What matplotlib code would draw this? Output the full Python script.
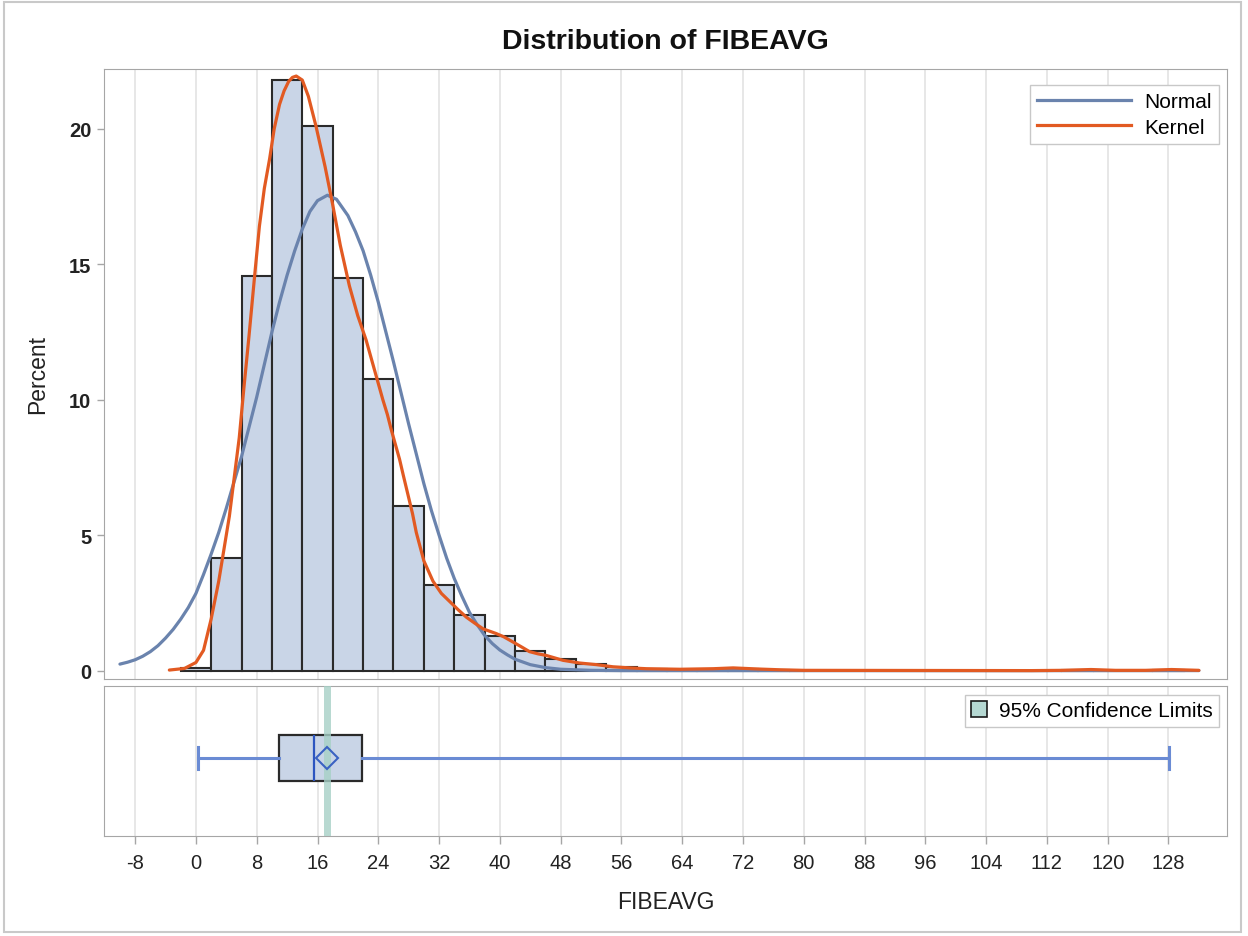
import matplotlib
matplotlib.use("Agg")
import matplotlib.pyplot as plt
from matplotlib.patches import Rectangle, Patch
from matplotlib.lines import Line2D

plt.rcParams['font.family'] = ['Liberation Sans', 'DejaVu Sans']

# histogram: bin midpoints (width 4) and percent of observations
bin_mids = [0, 4, 8, 12, 16, 20, 24, 28, 32, 36, 40, 44, 48, 52, 56, 60,
            64, 68, 72, 76, 80, 84, 88, 92, 96, 100, 104, 108, 112, 116,
            120, 124, 128]
bin_pct = [0.1, 4.15, 14.58, 21.8, 20.1, 14.5, 10.77, 6.06, 3.15, 2.04,
           1.27, 0.71, 0.44, 0.26, 0.15, 0.07, 0.04, 0.04, 0.07, 0.02,
           0, 0, 0, 0, 0, 0, 0, 0, 0, 0.03, 0, 0, 0.03]
bin_width = 4

# fitted normal curve
normal_x = [-10, -9, -8, -7, -6, -5, -4, -3, -2, -1, 0, 1, 2, 3, 4, 5, 6,
            7, 8, 9, 10, 11, 12, 13, 14, 15, 16, 17.3, 18.5, 19, 20, 21, 22,
            23, 24, 25, 26, 27, 28, 29, 30, 31, 32, 33, 34, 35, 36, 37, 38,
            39, 40, 41, 42, 44, 46, 48, 52, 56, 60, 80, 100, 132]
normal_y = [0.24, 0.31, 0.40, 0.53, 0.70, 0.92, 1.20, 1.52, 1.90, 2.33,
            2.85, 3.55, 4.3, 5.1, 6.0, 6.95, 7.9, 9.0, 10.1, 11.3, 12.5,
            13.6, 14.6, 15.5, 16.3, 16.95, 17.35, 17.55, 17.4, 17.2, 16.8,
            16.2, 15.5, 14.6, 13.6, 12.5, 11.4, 10.25, 9.1, 8.0, 6.9, 5.9,
            5.0, 4.15, 3.4, 2.75, 2.15, 1.7, 1.3, 1.0, 0.76, 0.58, 0.42,
            0.22, 0.11, 0.05, 0.01, 0, 0, 0, 0, 0]

# kernel density curve
kernel_x = [-3.5, -1.5, 0, 1, 2, 3, 4.4, 5.7, 6.3, 7, 7.7, 8.35, 9, 9.7,
            10.3, 11, 11.6, 12.2, 12.7, 13.2, 14, 14.8, 15.8, 17, 18, 19,
            20.2, 21.3, 22.4, 23.5, 24.6, 25.2, 25.7, 26.3, 26.8, 27.3,
            27.9, 28.5, 29, 30, 31.2, 32.3, 33.4, 34.5, 35.6, 36.7, 37.8,
            39.5, 40.5, 41.7, 43, 43.9, 45, 46.1, 47.2, 48.3, 50.5, 52.7,
            54.9, 57.1, 59.3, 63.7, 68.1, 70.7, 73.9, 76.9, 80, 110, 114,
            117.8, 121, 125, 128.4, 132]
kernel_y = [0.02, 0.08, 0.3, 0.75, 1.9, 3.3, 5.7, 8.6, 10.4, 12.4, 14.5,
            16.4, 17.8, 18.9, 20.0, 20.9, 21.4, 21.75, 21.9, 21.95, 21.8,
            21.2, 20.1, 18.6, 17.2, 15.7, 14.2, 13.1, 12.2, 11.1, 10.0,
            9.45, 8.9, 8.3, 7.8, 7.2, 6.5, 5.8, 5.1, 4.05, 3.3, 2.85, 2.55,
            2.25, 1.97, 1.75, 1.54, 1.37, 1.25, 1.06, 0.85, 0.70, 0.62,
            0.56, 0.47, 0.38, 0.28, 0.22, 0.14, 0.10, 0.07, 0.05, 0.07,
            0.10, 0.06, 0.03, 0.01, 0.0, 0.01, 0.04, 0.01, 0.01, 0.04, 0.01]

# box plot summary
box_stats = {'whislo': 0.3, 'q1': 10.95, 'med': 15.6, 'q3': 21.8,
             'whishi': 128.1, 'mean': 17.3}
mean_ci = (16.85, 17.75)

x_ticks = list(range(-8, 129, 8))
y_ticks = [0, 5, 10, 15, 20]

W, H = 1248, 937
fig = plt.figure(figsize=(W / 100, H / 100), dpi=100)


def px_axes(left, top, right, bottom):
    return fig.add_axes([left / W, 1 - bottom / H, (right - left) / W,
                         (bottom - top) / H])


ax = px_axes(104, 70, 1227, 680)
axb = px_axes(104, 687, 1227, 837)

xlim = (-12.1, 135.7)
grid_color = '#e3e3e3'
spine_color = '#a6a6a6'

# ---- histogram panel
ax.bar(bin_mids, bin_pct, width=bin_width, color='#c9d5e7',
       edgecolor='#2a2a2a', linewidth=1.5, zorder=2)
ax.plot(normal_x, normal_y, color='#6a83ad', lw=2.3, zorder=3,
        solid_capstyle='round', solid_joinstyle='round')
ax.plot(kernel_x, kernel_y, color='#e25a22', lw=2.3, zorder=4,
        solid_capstyle='round', solid_joinstyle='round')
ax.set_xlim(*xlim)
ax.set_ylim(-0.31, 22.21)
ax.set_xticks(x_ticks)
ax.set_yticks(y_ticks)
ax.tick_params(axis='x', length=0, labelbottom=False)
ax.tick_params(axis='y', length=5, width=1, color=spine_color, pad=4,
               labelsize=14.5, labelcolor='#222222')
for lab in ax.get_yticklabels():
    lab.set_fontweight('bold')
ax.grid(axis='x', color=grid_color, lw=1.2, zorder=0)
ax.set_axisbelow(True)
for s in ax.spines.values():
    s.set_color(spine_color)

leg = ax.legend(handles=[Line2D([], [], color='#6a83ad', lw=2.3),
                         Line2D([], [], color='#e25a22', lw=2.3)],
                labels=['Normal', 'Kernel'], loc='upper right',
                bbox_to_anchor=((1219 - 104) / 1123, 1 - (86 - 70) / 610),
                fontsize=15, handlelength=4.5, handletextpad=0.65,
                labelspacing=0.3, borderpad=0.35, borderaxespad=0,
                fancybox=False, framealpha=1, edgecolor='#c8c8c8')
leg.get_frame().set_linewidth(1)

# ---- box plot panel
axb.axvspan(*mean_ci, color='#a6d0c6', alpha=0.8, lw=0, zorder=3)
stats = dict(box_stats)
stats['fliers'] = []
axb.bxp([stats], positions=[0.52], widths=0.31, orientation='horizontal',
        showmeans=True, showfliers=False, patch_artist=True,
        boxprops=dict(facecolor='#c9d5e7', edgecolor='#2a2a2a', lw=1.6),
        whiskerprops=dict(color='#6a8bd4', lw=2.2),
        capprops=dict(color='#6a8bd4', lw=2.2),
        medianprops=dict(color='#2c55c0', lw=1.6),
        meanprops=dict(marker='D', markersize=11, markerfacecolor='none',
                       markeredgecolor='#3a62c2', markeredgewidth=1.5),
        capwidths=0.15, manage_ticks=False, zorder=2)
for artist in axb.lines[-1:]:
    artist.set_zorder(5)
axb.set_xlim(*xlim)
axb.set_ylim(0, 1)
axb.set_yticks([])
axb.set_xticks(x_ticks)
axb.set_xticklabels([str(t) for t in x_ticks])
axb.tick_params(axis='x', length=6, width=1, color=spine_color, pad=6,
                labelsize=14.5, labelcolor='#222222')
axb.grid(axis='x', color=grid_color, lw=1.2, zorder=0)
axb.set_axisbelow(True)
for s in axb.spines.values():
    s.set_color(spine_color)

leg2 = axb.legend(handles=[Patch(facecolor='#b5d8d2', edgecolor='#1a1a1a',
                                 lw=1.2)],
                  labels=['95% Confidence Limits'], loc='upper right',
                  bbox_to_anchor=((1219 - 104) / 1123, 1 - (696 - 687) / 150),
                  fontsize=15, handlelength=0.75, handleheight=0.75,
                  handletextpad=0.6, borderpad=0.3, borderaxespad=0,
                  fancybox=False, framealpha=1, edgecolor='#c8c8c8')
leg2.get_frame().set_linewidth(1)

# ---- titles and labels
fig.text(665.5 / W, 1 - 42 / H, 'Distribution of FIBEAVG', ha='center',
         va='center', fontsize=20.5, fontweight='bold', color='#111111')
fig.text(38 / W, 1 - 375 / H, 'Percent', rotation=90, ha='center',
         va='center', fontsize=16.5, color='#222222')
fig.text(665.5 / W, 1 - 903 / H, 'FIBEAVG', ha='center', va='center',
         fontsize=16.5, color='#222222')

# light frame around the whole graph
fig.patches.append(Rectangle((4 / W, 1 - 933 / H), 1237 / W, 930 / H,
                             transform=fig.transFigure, fill=False,
                             edgecolor='#c9c9c9', lw=1.5))

fig.savefig('out.png', dpi=100)
